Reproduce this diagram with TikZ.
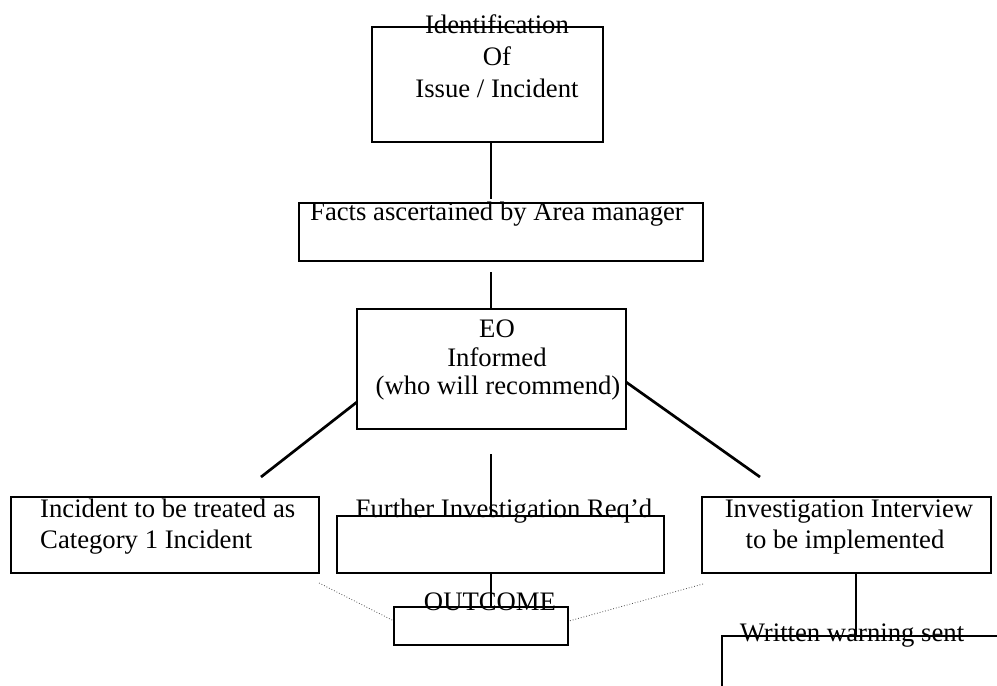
\documentclass[tikz,border=0pt]{standalone}
\usepackage{fontspec}
\setmainfont{Liberation Serif}
\begin{document}
\begin{tikzpicture}[x=1pt,y=-1pt,
  box/.style={draw, line width=2.7pt, rectangle, inner sep=0pt, outer sep=0pt},
  lbl/.style={anchor=base, inner sep=0pt, font=\fontsize{26.7}{31}\selectfont},
  conn/.style={line width=2.7pt},
  dotconn/.style={line width=0.8pt, dotted, black!70}]
\useasboundingbox (0,0) rectangle (997,686);
\clip (0,0) rectangle (997,686);
% boxes
\node[box, minimum width=231pt, minimum height=115pt] (idb) at (487.5,84.5) {};
\node[box, minimum width=404pt, minimum height=58pt] (facts) at (501,232) {};
\node[box, minimum width=269pt, minimum height=120pt] (eo) at (491.5,369) {};
\node[box, minimum width=308pt, minimum height=76pt] (inc) at (165,535) {};
\node[box, minimum width=327pt, minimum height=57pt] (fur) at (500.5,544.5) {};
\node[box, minimum width=289pt, minimum height=76pt] (inv) at (846.5,535) {};
\node[box, minimum width=174pt, minimum height=38pt] (out) at (481,626) {};
\node[box, minimum width=400pt, minimum height=200pt, anchor=north west] (wr) at (722,636) {};
% labels
\node[lbl] (t1a) at (497,33) {Identification};
\node[lbl] (t1b) at (497,65) {Of};
\node[lbl] (t1c) at (497,97) {Issue / Incident};
\node[lbl] (t2) at (497,220) {Facts ascertained by Area manager};
\node[lbl] (t3a) at (497,337) {EO};
\node[lbl] (t3b) at (497,366) {Informed};
\node[lbl] (t3c) at (498,394) {(who will recommend)};
\node[lbl, anchor=base west] (t4a) at (40,517) {Incident to be treated as};
\node[lbl, anchor=base west] (t4b) at (40,548) {Category 1 Incident};
\node[lbl] (t5) at (504,517) {Further Investigation Req’d};
\node[lbl] (t6a) at (849,517) {Investigation Interview};
\node[lbl] (t6b) at (845,548) {to be implemented};
\node[lbl] (t7) at (490,610) {OUTCOME};
\node[lbl] (t8) at (852,641) {Written warning sent};
% connector end points
\coordinate (fa) at (491,272);
\coordinate (fb) at (491,199);
\coordinate (eoL) at (357,402);
\coordinate (dL) at (261,477);
\coordinate (eoR) at (626,382);
\coordinate (dR) at (760,477);
\coordinate (mv) at (491,454);
\coordinate (incD) at (319,583);
\coordinate (invD) at (703,584);
\coordinate (outL) at (394,621);
\coordinate (outR) at (569,621);
% connectors
\draw[conn] (idb.south -| fa) -- (fb);
\draw[conn] (fa) -- (eo.north -| fa);
\draw[conn] (eoL) -- (dL);
\draw[conn] (eoR) -- (dR);
\draw[conn] (mv) -- (fur.north -| mv);
\draw[conn] (fur.south -| mv) -- (out.north -| mv);
\draw[conn] (inv.south -| 856,0) -- (wr.north -| 856,0);
\draw[dotconn] (incD) -- (outL);
\draw[dotconn] (invD) -- (outR);
\end{tikzpicture}
\end{document}
